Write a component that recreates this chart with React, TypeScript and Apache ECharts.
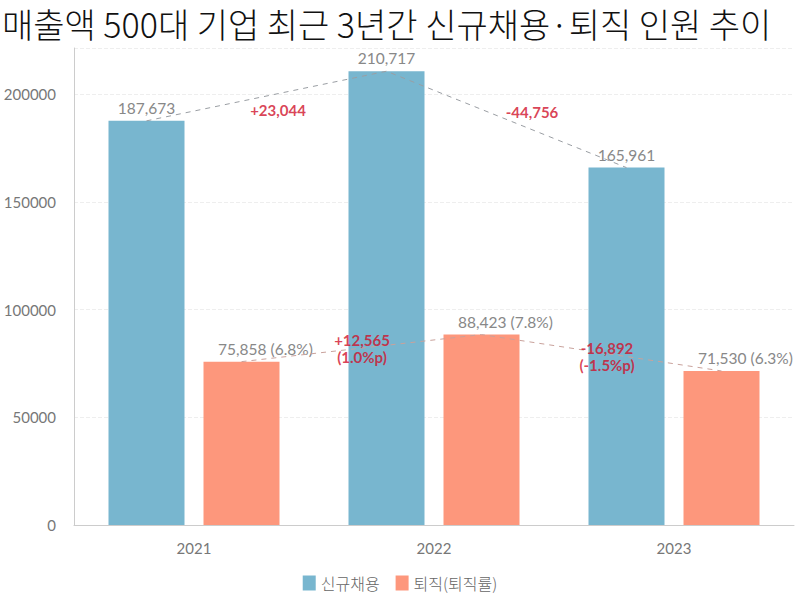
import React, { useEffect, useRef } from "react";
import * as echarts from "echarts";

const years = ["2021", "2022", "2023"];
const recruit = [187673, 210717, 165961];
const retire = [75858, 88423, 71530];
const retireRate = [6.8, 7.8, 6.3];
const recruitDiff = [23044, -44756];
const retireDiff = [12565, -16892];
const retireRateDiff = [1.0, -1.5];
const yTicks = [0, 50000, 100000, 150000, 200000];

const BLUE = "#78B6CF";
const ORANGE = "#FD977C";
const RED = "#D0112B";
const fmt = (v: number) => v.toLocaleString("en-US");
const sign = (v: number) => (v > 0 ? "+" : "-");

export default function App() {
  const ref = useRef<HTMLDivElement>(null);
  useEffect(() => {
    if (!ref.current) return;
    const chart = echarts.init(ref.current, undefined, { renderer: "svg" });
    const off = 0.198;
    const blueDiffOffsets = [[-36, 14], [-22, -7]];
    const orangeDiffOffsets = [[48, 0], [53, 4]];
    chart.setOption({
      animation: false,
      textStyle: { fontFamily: "Lato, 'Noto Sans CJK KR', sans-serif" },
      title: {
        text: "매출액 500대 기업 최근 3년간 신규채용·퇴직 인원 추이",
        left: 2,
        top: 3,
        padding: 0,
        textStyle: {
          fontFamily: "'Noto Sans CJK KR', sans-serif",
          fontSize: 34,
          fontWeight: 300,
          color: "#111",
          lineHeight: 40,
        },
      },
      legend: {
        bottom: 4,
        left: "center",
        itemWidth: 13,
        itemHeight: 15,
        itemGap: 16,
        icon: "rect",
        textStyle: { fontFamily: "'Noto Sans CJK KR', sans-serif", fontSize: 16, color: "#666", fontWeight: 300 },
        data: ["신규채용", "퇴직(퇴직률)"],
      },
      grid: { left: 74, right: 6, top: 48, bottom: 75 },
      xAxis: [
        {
          type: "category",
          data: years,
          axisTick: { show: false },
          axisLine: { lineStyle: { color: "#ccc" } },
          axisLabel: { color: "#777", fontSize: 15, margin: 15 },
        },
        { type: "value", min: -0.5, max: 2.5, show: false },
      ],
      yAxis: {
        type: "value",
        min: 0,
        max: 221500,
        interval: 50000,
        axisLine: { show: true, onZero: false, lineStyle: { color: "#ccc" } },
        axisLabel: {
          color: "#777",
          fontSize: 15,
          margin: 18,
          customValues: yTicks,
          formatter: (v: number) => String(v),
        },
        axisTick: { show: false },
        splitLine: { lineStyle: { color: "#eee", type: "dashed" } },
      },
      series: [
        {
          name: "신규채용",
          type: "bar",
          data: recruit,
          barWidth: 76,
          barGap: "25%",
          itemStyle: { color: BLUE },
          label: {
            show: true,
            position: "top",
            distance: 5,
            color: "#888",
            fontSize: 15.5,
            formatter: (p: any) => fmt(p.value),
          },
        },
        {
          name: "퇴직(퇴직률)",
          type: "bar",
          data: retire,
          barWidth: 76,
          itemStyle: { color: ORANGE },
          label: {
            show: true,
            position: "top",
            distance: 5,
            offset: [24, 0],
            color: "#888",
            fontSize: 15.5,
            formatter: (p: any) => `${fmt(p.value)} (${retireRate[p.dataIndex].toFixed(1)}%)`,
          },
        },
        {
          type: "line",
          xAxisIndex: 1,
          data: recruit.map((v, i) => [i - off, v]),
          symbol: "none",
          lineStyle: { color: "#9a9ea3", width: 1, type: [5, 5] },
          z: 5,
          silent: true,
        },
        {
          type: "line",
          xAxisIndex: 1,
          data: retire.map((v, i) => [i + off, v]),
          symbol: "none",
          lineStyle: { color: "#c9a29c", width: 1, type: [5, 5] },
          z: 5,
          silent: true,
        },
        {
          type: "scatter",
          xAxisIndex: 1,
          symbolSize: 0,
          silent: true,
          z: 10,
          data: recruitDiff.map((d, i) => ({
            value: [i + 0.5, (recruit[i] + recruit[i + 1]) / 2],
            label: {
              show: true,
              position: "inside",
              offset: blueDiffOffsets[i],
              formatter: `${sign(d)}${fmt(Math.abs(d))}`,
              color: RED,
              fontSize: 15,
              fontWeight: "bold",
            },
          })),
        },
        {
          type: "scatter",
          xAxisIndex: 1,
          symbolSize: 0,
          silent: true,
          z: 10,
          data: retireDiff.map((d, i) => ({
            value: [i + 0.5, (retire[i] + retire[i + 1]) / 2],
            label: {
              show: true,
              position: "inside",
              offset: orangeDiffOffsets[i],
              formatter: `${sign(d)}${fmt(Math.abs(d))}\n(${retireRateDiff[i].toFixed(1)}%p)`,
              color: RED,
              fontSize: 15,
              fontWeight: "bold",
              lineHeight: 17,
              align: "center",
            },
          })),
        },
      ],
    });
    return () => chart.dispose();
  }, []);
  return <div ref={ref} style={{ width: 800, height: 600, position: "absolute", left: 0, top: 0 }} />;
}
